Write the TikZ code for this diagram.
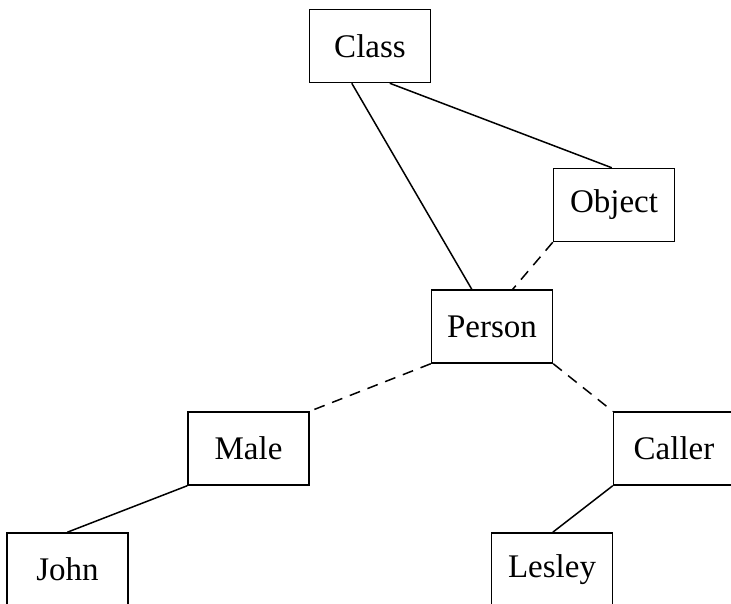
\documentclass[tikz,border=0pt]{standalone}
\usepackage{fontspec}
\setmainfont{Liberation Serif}
\begin{document}
\begin{tikzpicture}[x=1pt,y=-1pt,
  box/.style={draw,line width=1.5pt,rectangle,minimum width=121pt,minimum height=73pt,inner sep=0pt,font=\fontsize{33}{36}\selectfont},
  solidlink/.style={line width=1.5pt},
  dashlink/.style={line width=1.5pt,dash pattern=on 11pt off 8pt}]
\useasboundingbox (0,0) rectangle (731,604);
\clip (0,0) rectangle (731,604);
\node[box] (Class) at (370,46) {Class};
\node[box] (Object) at (614,205) {Object};
\node[box] (Person) at (492,326.5) {Person};
\node[box] (Male) at (248.5,448.5) {Male};
\node[box] (Caller) at (674,448.5) {Caller};
\node[box] (John) at (67.5,569.5) {John};
\node[box] (Lesley) at (552,569.5) {Lesley};
\draw[solidlink] ([xshift=43pt]Class.south west) -- ([xshift=41pt]Person.north west);
\draw[solidlink] ([xshift=81pt]Class.south west) -- ([xshift=59pt]Object.north west);
\draw[dashlink] (Object.south west) -- ([xshift=82pt]Person.north west);
\draw[dashlink] (Person.south west) -- (Male.north east);
\draw[dashlink] (Person.south east) -- (Caller.north west);
\draw[solidlink] (Male.south west) -- ([xshift=61pt]John.north west);
\draw[solidlink] (Caller.south west) -- ([xshift=62pt]Lesley.north west);
\end{tikzpicture}
\end{document}
